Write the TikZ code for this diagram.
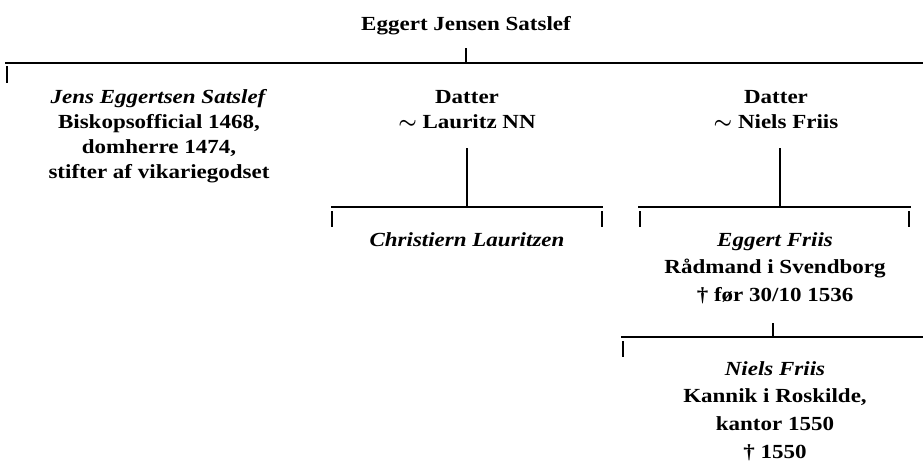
\documentclass[tikz,border=0pt]{standalone}
\usepackage{fontspec}
\setmainfont{Liberation Serif}[FakeStretch=1.15]
\newcommand\firstln{\rule{0pt}{19pt}}
\begin{document}
\begin{tikzpicture}[x=1pt,y=-1pt]
\tikzset{
  person/.style={align=center, inner sep=0pt, anchor=north,
    font=\fontsize{20}{25}\selectfont\bfseries\boldmath},
  wide/.style={font=\fontsize{20}{27.6}\selectfont\bfseries\boldmath},
  bar/.style={line width=1.6pt},
  tick/.style={line width=1.4pt}
}
\useasboundingbox (0,0) rectangle (923,461);

% persons
\node[person] (top)  at (466,11)  {\firstln Eggert Jensen Satslef};
\node[person] (jens) at (159,84)  {\firstln\textit{Jens Eggertsen Satslef}\\Biskopsofficial 1468,\\domherre 1474,\\stifter af vikariegodset};
\node[person] (d1)   at (467,84)  {\firstln Datter\\$\sim$ Lauritz NN};
\node[person] (d2)   at (776,84)  {\firstln Datter\\$\sim$ Niels Friis};
\node[person] (chr)  at (467,227) {\firstln\textit{Christiern Lauritzen}};
\node[person,wide] (egg) at (775,227) {\firstln\textit{Eggert Friis}\\Rådmand i Svendborg\\† før 30/10 1536};
\node[person,wide] (nie) at (775,356) {\firstln\textit{Niels Friis}\\Kannik i Roskilde,\\kantor 1550\\† 1550};

% bars
\coordinate (b0L) at (5,63);   \coordinate (b0R) at (923,63);
\coordinate (b1L) at (331,207); \coordinate (b1R) at (603,207);
\coordinate (b2L) at (638,207); \coordinate (b2R) at (911,207);
\coordinate (b3L) at (621,337); \coordinate (b3R) at (923,337);
\draw[bar] (b0L) -- (b0R);
\draw[bar] (b1L) -- (b1R);
\draw[bar] (b2L) -- (b2R);
\draw[bar] (b3L) -- (b3R);

% descent lines
\coordinate (v0) at (466,48);
\draw[tick] (v0) -- (v0 |- b0L);
\coordinate (v1) at (467,148);
\draw[tick] (v1) -- (v1 |- b1L);
\coordinate (v2) at (780,148);
\draw[tick] (v2) -- (v2 |- b2L);
\coordinate (v3) at (773,323);
\draw[tick] (v3) -- (v3 |- b3L);

% child ticks
\coordinate (c0) at (7,66);    \draw[tick] (c0) -- ++(0,17);
\coordinate (c1) at (332,211); \draw[tick] (c1) -- ++(0,16);
\coordinate (c2) at (602,211); \draw[tick] (c2) -- ++(0,16);
\coordinate (c3) at (640,211); \draw[tick] (c3) -- ++(0,16);
\coordinate (c4) at (909,211); \draw[tick] (c4) -- ++(0,16);
\coordinate (c5) at (623,341); \draw[tick] (c5) -- ++(0,16);
\end{tikzpicture}
\end{document}
